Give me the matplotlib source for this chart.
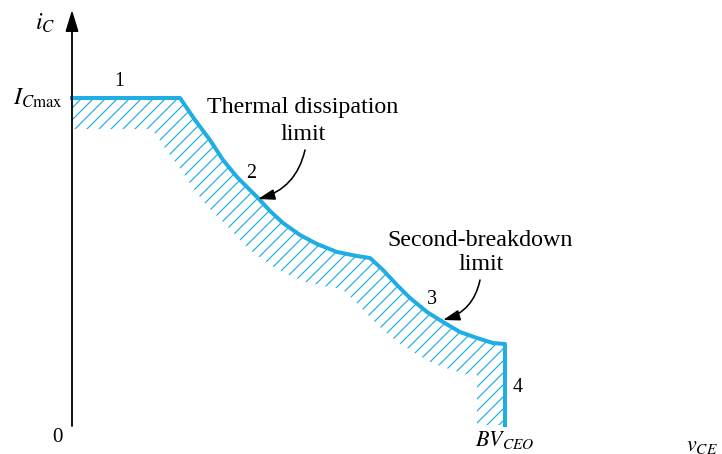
import matplotlib
matplotlib.use("Agg")
import matplotlib.pyplot as plt
from matplotlib.patches import Polygon, Rectangle
import numpy as np

# Safe-operating-area boundary (v_CE, i_C), arbitrary units
v_ce = [0, 108, 123, 138, 151, 165, 178, 186, 198, 211, 228, 245, 265, 285, 298,
        311, 325, 338, 355, 371, 388, 405, 421, 433, 433]
i_c = [327, 327, 305, 285, 265, 248, 235, 227, 214, 202, 190, 181, 173, 169, 167,
       155, 140, 127, 113, 103, 93, 87, 82, 81, 0]

region_labels = ["1", "2", "3", "4"]
i_cmax = 327
bv_ceo = 433

BLUE = "#1FADE4"

plt.rcParams["mathtext.fontset"] = "stix"
plt.rcParams["font.family"] = ["Liberation Serif", "DejaVu Serif"]
plt.rcParams["hatch.linewidth"] = 1.2

fig = plt.figure(figsize=(722 / 72, 454 / 72), dpi=72)
ax = fig.add_axes([0, 0, 1, 1])
ax.set_xlim(-72, 650)
ax.set_ylim(-29, 425)
ax.axis("off")

# hatched band below the boundary
dx, dy = -28, -31
vx = np.array(v_ce, float)
vy = np.array(i_c, float)
poly = np.vstack([np.column_stack([vx, vy]),
                  np.column_stack([vx + dx, vy + dy])[::-1]])
hp = Polygon(poly, closed=True, facecolor="none", edgecolor=BLUE,
             linewidth=0, hatch="//")
ax.add_patch(hp)
clip = Rectangle((0, 0), 700, 500, transform=ax.transData)
hp.set_clip_path(clip)

# boundary
ax.plot(v_ce, i_c, color=BLUE, lw=4, solid_joinstyle="round", zorder=3)

# axes with arrows
ap = dict(arrowstyle="-|>,head_length=1.8,head_width=0.55", lw=1.8,
          color="black", shrinkA=0, shrinkB=0)
ax.annotate("", xy=(0, 415), xytext=(0, -1), arrowprops=ap)
ax.annotate("", xy=(652, 0), xytext=(-1, 0), arrowprops=ap)

# axis labels
ax.text(-27, 402, "$i_C$", fontsize=24, ha="center", va="center")
ax.text(-9, 327, r"$I_{C\mathrm{max}}$", fontsize=24, ha="right", va="center")
ax.text(-15, -12, "0", fontsize=21, ha="center", va="center")
ax.text(bv_ceo, -15, "$BV_{CEO}$", fontsize=22, ha="center", va="center")
ax.text(614, -21, "$v_{CE}$", fontsize=22, ha="left", va="center")

# region numbers
for lab, (x, y) in zip(region_labels, [(47, 344), (179, 251), (360, 125), (446, 37)]):
    ax.text(x, y, lab, fontsize=20, ha="center", va="center")

# annotations
ax.text(231, 317, "Thermal dissipation", fontsize=24, ha="center", va="center")
ax.text(231, 290, "limit", fontsize=24, ha="center", va="center")
ax.text(408, 185, "Second-breakdown", fontsize=24, ha="center", va="center")
ax.text(409, 160, "limit", fontsize=24, ha="center", va="center")

arr = dict(arrowstyle="-|>,head_length=1.4,head_width=0.45", lw=1.6,
           color="black", shrinkA=0, shrinkB=0, connectionstyle="arc3,rad=-0.3")
ax.annotate("", xy=(186, 226), xytext=(233, 275), arrowprops=arr)
ax.annotate("", xy=(371, 105), xytext=(408, 145), arrowprops=arr)

fig.savefig("out.png", dpi=72)
